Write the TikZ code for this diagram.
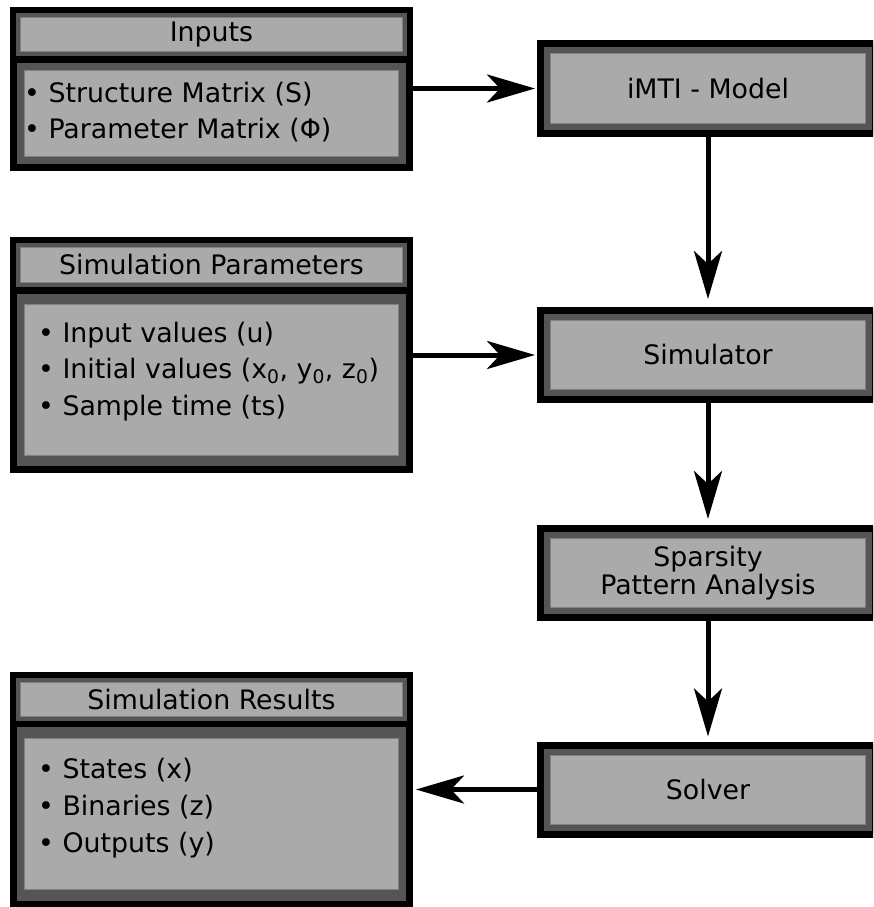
\documentclass[tikz,border=0pt]{standalone}
\usepackage{fontspec}
\setmainfont{DejaVu Sans}
\usetikzlibrary{arrows.meta}
\definecolor{band}{HTML}{555555}
\definecolor{lite}{HTML}{AAAAAA}
\definecolor{liteedge}{HTML}{808080}
\newcommand{\mainsize}{\fontsize{26.8}{28}\selectfont}
\begin{document}
\begin{tikzpicture}[x=1pt,y=-1pt,
  bandbox/.style={draw=black, fill=band, line width=7pt, inner sep=0pt},
  hdrband/.style={bandbox, line width=6pt},
  litebox/.style={draw=liteedge, fill=lite, line width=1pt, inner sep=0pt, font=\mainsize, align=center},
  itemtext/.style={anchor=base west, inner sep=0pt, font=\mainsize},
  flow/.style={line width=5pt, -{Stealth[length=48pt,width=28pt,inset=13pt]}},
]
\clip (0,0) rectangle (873,907);

% ---------- right column ----------
\node[bandbox, minimum width=335pt, minimum height=90pt] (imti) at (708,88.5) {};
\node[litebox, minimum width=315pt, minimum height=70pt] (imtitxt) at (imti.center) {iMTI - Model};

\node[bandbox, minimum width=335pt, minimum height=89pt] (sim) at (708,355) {};
\node[litebox, minimum width=315pt, minimum height=69pt] (simtxt) at (sim.center) {Simulator};

\node[bandbox, minimum width=335pt, minimum height=89pt] (spa) at (708,573) {};
\node[litebox, minimum width=315pt, minimum height=69pt] (spatxt) at (spa.center) {Sparsity\\Pattern Analysis};

\node[bandbox, minimum width=335pt, minimum height=89pt] (solver) at (708,789.5) {};
\node[litebox, minimum width=315pt, minimum height=69pt] (solvertxt) at (solver.center) {Solver};

% ---------- Inputs ----------
\node[bandbox, minimum width=396pt, minimum height=108pt] (inbody) at (211.5,113.5) {};
\node[litebox, minimum width=374pt, minimum height=86pt] (inbodylite) at (inbody.center) {};
\node[hdrband, minimum width=397pt, minimum height=49pt] (inhdr) at (211.5,34.5) {};
\node[litebox, minimum width=382pt, minimum height=34pt] (inhdrtxt) at (inhdr.center) {Inputs};
\node[itemtext] (in1) at (24,102) {• Structure Matrix (S)};
\node[itemtext] (in2) at (24,138) {• Parameter Matrix (Φ)};

% ---------- Simulation Parameters ----------
\node[bandbox, minimum width=396pt, minimum height=179pt] (spbody) at (211.5,380) {};
\node[litebox, minimum width=374pt, minimum height=151pt] (spbodylite) at (spbody.center) {};
\node[hdrband, minimum width=397pt, minimum height=50pt] (sphdr) at (211.5,265) {};
\node[litebox, minimum width=382pt, minimum height=35pt] (sphdrtxt) at (sphdr.center) {Simulation Parameters};
\node[itemtext] (sp1) at (38,342) {• Input values (u)};
\node[itemtext] (sp2) at (38,378) {• Initial values (x\textsubscript{0}, y\textsubscript{0}, z\textsubscript{0})};
\node[itemtext] (sp3) at (38,415) {• Sample time (ts)};

% ---------- Simulation Results ----------
\node[bandbox, minimum width=396pt, minimum height=182pt] (resbody) at (211.5,813.5) {};
\node[litebox, minimum width=374pt, minimum height=151pt] (resbodylite) at (resbody.center) {};
\node[hdrband, minimum width=397pt, minimum height=49pt] (reshdr) at (211.5,699.5) {};
\node[litebox, minimum width=382pt, minimum height=34pt] (reshdrtxt) at (reshdr.center) {Simulation Results};
\node[itemtext] (res1) at (38,778) {• States (x)};
\node[itemtext] (res2) at (38,815) {• Binaries (z)};
\node[itemtext] (res3) at (38,852) {• Outputs (y)};

% ---------- connectors ----------
\draw[flow, shorten >=2pt] (inbody.east |- imti.west) -- (imti.west);
\draw[flow, shorten >=2pt] (spbody.east |- sim.west) -- (sim.west);
\draw[flow, shorten >=8pt] (imti.south) -- (sim.north);
\draw[flow, shorten >=6pt] (sim.south) -- (spa.north);
\draw[flow, shorten >=5pt] (spa.south) -- (solver.north);
\draw[flow, shorten >=3pt] (solver.west) -- (resbody.east |- solver.west);
\end{tikzpicture}
\end{document}
